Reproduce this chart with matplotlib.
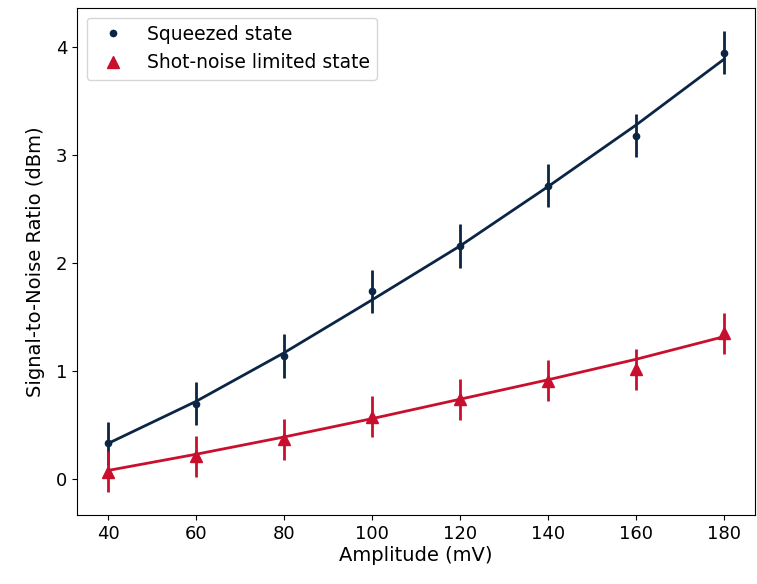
import numpy as np
import matplotlib.pyplot as plt

# datos
amplitude = np.array([40, 60, 80, 100, 120, 140, 160, 180])
snr_squeezed = np.array([0.33, 0.70, 1.14, 1.74, 2.16, 2.72, 3.18, 3.95])
snr_shot = np.array([0.07, 0.21, 0.37, 0.58, 0.74, 0.91, 1.02, 1.35])
err_squeezed = np.array([0.2, 0.2, 0.2, 0.2, 0.2, 0.2, 0.2, 0.2])
err_shot = np.array([0.19, 0.19, 0.19, 0.19, 0.19, 0.19, 0.19, 0.19])

# curvas de ajuste
fit_squeezed = np.array([0.33, 0.72, 1.17, 1.66, 2.16, 2.71, 3.28, 3.89])
fit_shot = np.array([0.08, 0.23, 0.39, 0.56, 0.74, 0.92, 1.11, 1.32])

navy = '#0b2545'
red = '#c8102e'

plt.figure(figsize=(7.57, 5.84), dpi=100)
plt.errorbar(amplitude, snr_squeezed, yerr=err_squeezed, fmt='none', ecolor=navy, elinewidth=2)
plt.errorbar(amplitude, snr_shot, yerr=err_shot, fmt='none', ecolor=red, elinewidth=2)
plt.plot(amplitude, fit_squeezed, color=navy, linewidth=2)
plt.plot(amplitude, fit_shot, color=red, linewidth=2)
plt.plot(amplitude, snr_squeezed, 'o', color=navy, markersize=4.5, linestyle='none', label='Squeezed state')
plt.plot(amplitude, snr_shot, '^', color=red, markersize=9, linestyle='none', label='Shot-noise limited state')

plt.xlabel('Amplitude (mV)', fontsize=14, labelpad=2)
plt.ylabel('Signal-to-Noise Ratio (dBm)', fontsize=14, labelpad=8)
plt.xticks(amplitude, fontsize=13)
plt.yticks([0, 1, 2, 3, 4], fontsize=13)
plt.legend(loc='upper left', fontsize=13.5)
plt.subplots_adjust(left=0.102, right=0.997, top=0.986, bottom=0.118)
plt.savefig('out.png', dpi=100)
